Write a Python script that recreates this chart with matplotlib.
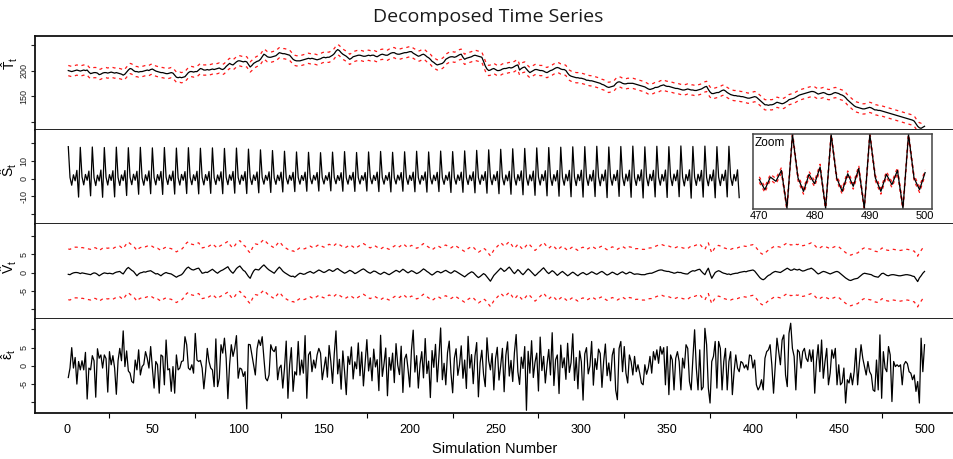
import matplotlib
matplotlib.use("Agg")

import numpy as np
import matplotlib.pyplot as plt

plt.rcParams["font.family"] = ["Liberation Sans", "DejaVu Sans"]
plt.rcParams["axes.unicode_minus"] = False
plt.rcParams["mathtext.fontset"] = "custom"
plt.rcParams["mathtext.rm"] = "Liberation Sans"
plt.rcParams["mathtext.it"] = "Liberation Sans"
plt.rcParams["mathtext.sf"] = "Liberation Sans"

# ---- data ----
# trend T_t, t = 1..500 (rows of 10)
trend = [
    200, 199, 198, 199, 200, 201, 200, 199, 200, 201,
    200, 201, 197, 194, 195, 196, 196, 195, 192, 193,
    195, 196, 196, 195, 196, 197, 196, 195, 196, 195,
    194, 193, 191, 193, 197, 201, 204, 203, 200, 198,
    198, 197, 198, 198, 199, 200, 201, 200, 202, 203,
    201, 199, 198, 197, 196, 196, 195, 194, 194, 195,
    196, 195, 191, 187, 186, 187, 186, 187, 188, 192,
    196, 198, 198, 197, 198, 198, 201, 204, 203, 201,
    201, 202, 201, 202, 203, 202, 203, 204, 205, 203,
    202, 204, 208, 211, 214, 212, 211, 214, 217, 219,
    219, 218, 217, 218, 217, 212, 207, 210, 214, 216,
    218, 219, 222, 227, 232, 230, 227, 226, 226, 227,
    228, 229, 232, 235, 234, 233, 233, 232, 231, 230,
    226, 222, 220, 219, 219, 219, 220, 221, 222, 223,
    224, 223, 224, 223, 222, 221, 222, 223, 225, 226,
    225, 226, 226, 228, 230, 233, 238, 241, 239, 235,
    232, 230, 228, 225, 222, 224, 227, 228, 229, 230,
    230, 229, 228, 228, 229, 230, 229, 230, 230, 228,
    227, 229, 231, 232, 231, 230, 230, 232, 234, 235,
    235, 233, 232, 232, 233, 234, 235, 235, 236, 237,
    237, 234, 232, 230, 228, 229, 231, 232, 230, 227,
    225, 222, 218, 216, 213, 211, 212, 213, 214, 217,
    222, 224, 226, 227, 227, 226, 227, 229, 231, 232,
    226, 222, 224, 225, 226, 227, 229, 230, 229, 228,
    227, 226, 218, 209, 203, 200, 201, 203, 204, 202,
    200, 200, 201, 203, 204, 204, 205, 206, 205, 206,
    208, 210, 211, 201, 204, 206, 207, 203, 199, 196,
    198, 200, 202, 202, 201, 200, 200, 199, 197, 196,
    198, 200, 201, 203, 205, 206, 205, 203, 202, 202,
    200, 195, 191, 189, 188, 187, 186, 186, 185, 185,
    184, 183, 181, 181, 180, 180, 179, 178, 177, 176,
    175, 173, 172, 170, 168, 167, 168, 169, 170, 174,
    177, 178, 177, 175, 174, 174, 175, 175, 175, 175,
    174, 173, 172, 171, 170, 169, 168, 166, 164, 163,
    164, 165, 167, 167, 168, 170, 171, 172, 170, 169,
    169, 168, 167, 166, 165, 165, 164, 163, 162, 162,
    163, 164, 163, 162, 162, 161, 161, 162, 163, 164,
    166, 168, 169, 163, 158, 155, 155, 156, 157, 157,
    159, 161, 162, 160, 157, 155, 153, 152, 151, 151,
    150, 150, 149, 149, 148, 147, 146, 146, 147, 148,
    149, 148, 145, 142, 139, 136, 133, 133, 132, 133,
    133, 134, 136, 138, 137, 136, 135, 136, 138, 140,
    143, 144, 145, 146, 148, 150, 152, 153, 154, 155,
    156, 157, 158, 159, 159, 158, 156, 154, 155, 156,
    157, 156, 154, 153, 153, 154, 156, 157, 156, 155,
    153, 152, 150, 147, 143, 140, 137, 134, 131, 129,
    128, 127, 126, 125, 125, 126, 127, 128, 127, 125,
    123, 123, 122, 122, 121, 120, 119, 118, 117, 116,
    115, 114, 113, 112, 111, 110, 109, 108, 107, 106,
    105, 104, 103, 101, 96, 91, 88, 87, 89, 91,
]
trend_band = 10  # half width of the dashed band

# seasonal S_t shown in the main panel, t = 1..392 (one row per period of 7)
seasonal = [
    [18.0, 0.6, -3.8, 2.1, -1.3, 4.6, -10.5],
    [17.6, 0.9, -3.6, 2.3, -1.0, 4.2, -9.8],
    [17.8, 0.5, -4.0, 1.9, -1.4, 4.8, -10.6],
    [17.5, 0.8, -3.7, 2.2, -1.1, 4.4, -10.4],
    [17.7, 0.6, -3.9, 2.0, -1.2, 4.5, -9.6],
    [17.4, 0.7, -3.5, 2.4, -1.0, 4.1, -8.9],
    [17.6, 0.4, -3.8, 2.1, -1.3, 4.3, -8.6],
    [17.3, 0.6, -3.6, 2.2, -1.1, 4.0, -9.0],
    [17.5, 0.8, -3.4, 2.0, -1.2, 4.2, -8.8],
    [17.2, 0.5, -3.7, 2.3, -1.0, 3.9, -8.5],
    [17.4, 0.7, -3.5, 2.1, -1.2, 4.1, -8.7],
    [17.1, 0.6, -3.6, 2.2, -1.1, 4.0, -8.4],
    [17.3, 0.5, -3.4, 2.0, -1.3, 3.8, -8.6],
    [17.0, 0.7, -3.5, 2.1, -1.0, 4.0, -8.3],
    [17.2, 0.6, -3.3, 1.9, -1.2, 3.9, -8.5],
    [16.6, 0.5, -3.4, 2.0, -1.1, 3.7, -8.1],
    [16.2, 0.6, -3.2, 1.8, -1.0, 3.8, -7.9],
    [15.8, 0.4, -3.3, 1.9, -1.2, 3.6, -7.6],
    [15.4, 0.5, -3.1, 1.8, -1.0, 3.5, -7.4],
    [15.0, 0.6, -3.2, 1.7, -1.1, 3.6, -7.2],
    [14.8, 0.4, -3.0, 1.8, -0.9, 3.4, -7.1],
    [14.6, 0.5, -3.1, 1.6, -1.0, 3.5, -7.0],
    [14.9, 0.6, -3.0, 1.7, -1.1, 3.3, -7.2],
    [15.2, 0.4, -3.2, 1.8, -0.9, 3.5, -7.3],
    [14.7, 0.5, -3.1, 1.6, -1.0, 3.4, -7.1],
    [15.0, 0.6, -3.0, 1.8, -1.1, 3.6, -7.4],
    [15.3, 0.5, -3.2, 1.7, -1.0, 3.5, -7.6],
    [14.8, 0.4, -3.1, 1.9, -0.9, 3.4, -7.2],
    [15.1, 0.6, -3.3, 1.8, -1.1, 3.6, -7.5],
    [15.4, 0.5, -3.2, 1.7, -1.0, 3.7, -7.7],
    [15.0, 0.6, -3.1, 1.9, -1.2, 3.5, -7.4],
    [15.5, 0.4, -3.3, 1.8, -1.0, 3.7, -7.9],
    [15.2, 0.5, -3.2, 2.0, -1.1, 3.6, -7.8],
    [15.6, 0.6, -3.4, 1.9, -1.2, 3.8, -8.1],
    [15.9, 0.5, -3.3, 2.0, -1.1, 3.9, -8.3],
    [16.2, 0.7, -3.5, 2.1, -1.2, 4.0, -8.6],
    [16.5, 0.6, -3.6, 2.0, -1.3, 4.1, -8.9],
    [16.8, 0.7, -3.7, 2.2, -1.2, 4.3, -9.2],
    [17.0, 0.6, -3.8, 2.1, -1.3, 4.2, -9.5],
    [17.3, 0.8, -3.7, 2.3, -1.2, 4.4, -9.8],
    [17.5, 0.7, -3.9, 2.2, -1.4, 4.5, -10.0],
    [17.7, 0.6, -3.8, 2.4, -1.3, 4.6, -10.3],
    [17.9, 0.8, -4.0, 2.3, -1.2, 4.7, -10.5],
    [18.0, 0.7, -3.9, 2.2, -1.4, 4.6, -10.2],
    [18.2, 0.9, -4.1, 2.4, -1.3, 4.8, -10.8],
    [17.8, 0.7, -3.8, 2.3, -1.2, 4.6, -10.1],
    [18.1, 0.8, -4.0, 2.5, -1.4, 4.7, -10.6],
    [18.3, 0.6, -3.9, 2.2, -1.3, 4.9, -11.0],
    [17.9, 0.8, -4.1, 2.4, -1.2, 4.6, -10.4],
    [18.2, 0.7, -3.8, 2.3, -1.4, 4.8, -10.7],
    [18.0, 0.9, -4.0, 2.5, -1.3, 4.7, -10.3],
    [18.4, 0.7, -4.2, 2.3, -1.2, 4.9, -11.1],
    [18.1, 0.8, -3.9, 2.4, -1.4, 4.6, -10.5],
    [18.3, 0.6, -4.1, 2.2, -1.3, 4.8, -10.9],
    [18.0, 0.8, -4.0, 2.4, -1.2, 4.7, -10.4],
    [18.2, 0.7, -3.9, 2.3, -1.4, 4.9, -10.8],
]

# zoomed seasonal component, t = 470..500
zoom_t = list(range(470, 501))
zoom_seasonal = [
    0.3, -3.3, 1.2, -0.3, 3.6, -10.0, 16.5, 0.9, -3.9, 2.2,
    -1.2, 4.8, -10.0, 16.5, 0.9, -3.9, 2.4, -2.1, 4.3, -10.0,
    16.5, 0.9, -3.9, 2.2, -1.5, 3.6, -10.0, 16.5, 0.9, -3.3,
    2.8,
]
zoom_band = 1.0

# V_t, t = 1..500 (rows of 10)
v_comp = [
    -0.5, -0.6, -0.3, -0.1, 0.0, 0.0, -0.1, -0.3, -0.1, -0.2,
    -0.3, -0.4, -0.5, -0.6, -0.3, -0.1, -0.2, -0.5, -0.9, -0.6,
    -0.3, -0.1, -0.2, -0.3, -0.2, -0.3, -0.4, -0.1, 0.1, 0.2,
    0.3, -0.1, -0.4, 0.3, 1.0, 1.4, 1.0, 0.6, 0.3, -0.3,
    -0.9, -0.4, -0.1, 0.0, 0.2, 0.1, 0.3, 0.4, 0.5, 0.2,
    -0.1, -0.4, -0.3, -0.6, -0.9, -0.5, -0.2, 0.0, -0.2, -0.3,
    -0.4, -0.7, -1.0, -1.3, -1.0, -0.8, -0.6, -0.1, 0.6, 1.2,
    1.5, 1.1, 0.8, 0.7, 0.9, 1.1, 1.2, 0.5, -0.2, -0.1,
    0.1, 0.0, 0.3, 0.6, 0.9, 0.5, 0.1, -0.2, 0.2, 0.5,
    0.7, 1.0, 1.3, 1.6, 0.8, 0.2, -0.2, 0.4, 1.1, 1.5,
    1.8, 1.2, 0.6, 0.3, -0.4, -1.1, -1.6, -0.5, 0.4, 0.9,
    0.8, 0.7, 1.2, 1.7, 2.1, 1.6, 1.1, 0.7, 0.4, 0.1,
    -0.2, 0.4, 1.0, 1.5, 1.0, 0.4, 0.0, -0.3, -0.6, -0.9,
    -1.1, -1.0, -1.3, -0.9, -0.5, -0.2, -0.3, -0.5, -0.4, -0.1,
    0.1, 0.3, 0.0, -0.2, 0.1, 0.4, 0.7, 0.5, 0.2, 0.0,
    0.2, 0.5, 0.8, 0.6, 0.3, 0.5, 0.9, 1.1, 0.7, 0.4,
    0.1, -0.2, 0.0, 0.3, 0.6, 0.4, 0.1, -0.3, -0.1, 0.2,
    0.5, 0.8, 1.0, 0.7, 0.3, 0.0, -0.2, 0.1, 0.4, 0.3,
    0.0, -0.3, -0.5, -0.2, 0.1, -0.1, -0.4, -0.6, -0.3, 0.0,
    0.3, 0.6, 0.4, 0.1, 0.5, 0.9, 0.6, 0.2, -0.1, 0.2,
    0.5, 0.3, 0.0, -0.3, -0.1, 0.2, 0.6, 1.0, 0.7, 0.3,
    0.0, -0.4, -0.7, -0.4, 0.0, 0.3, 0.2, -0.1, 0.1, 0.4,
    0.6, 0.3, 0.0, -0.2, 0.1, 0.5, 0.3, 0.0, -0.3, -0.6,
    -0.9, -1.2, -0.8, -0.4, -0.1, 0.2, 0.0, -0.5, -1.0, -1.4,
    -1.1, -0.7, -0.3, -0.6, -1.2, -1.8, -2.4, -1.6, -0.8, -0.3,
    0.2, 0.7, 1.2, 0.8, 0.3, 0.6, 1.1, 1.5, 0.9, 0.2,
    -0.3, 0.2, 0.8, 0.4, -0.2, -0.6, -0.1, 0.5, 1.0, 0.6,
    0.1, -0.4, -0.9, -0.5, 0.0, 0.4, 0.9, 1.3, 0.7, 0.1,
    -0.3, 0.1, 0.5, 0.2, -0.3, -0.8, -0.4, 0.0, 0.3, -0.1,
    -0.5, -0.9, -0.6, -0.2, 0.1, -0.2, -0.6, -0.9, -0.5, -0.2,
    0.0, -0.3, -0.6, -0.4, -0.1, 0.2, 0.0, -0.3, -0.5, -0.2,
    0.1, 0.3, 0.0, -0.4, -0.7, -0.5, -0.2, 0.1, -0.1, -0.4,
    -0.6, -0.3, 0.0, 0.2, -0.1, -0.4, -0.2, 0.1, 0.0, -0.3,
    -0.5, -0.4, -0.4, -0.5, -0.6, -0.6, -0.6, -0.4, -0.3, -0.2,
    -0.2, 0.0, 0.2, 0.4, 0.6, 0.7, 0.7, 0.5, 0.4, 0.3,
    0.3, 0.1, 0.0, -0.2, -0.1, 0.1, 0.0, 0.0, -0.2, -0.3,
    -0.4, -0.4, 0.0, 0.3, 0.5, 0.4, 0.6, 0.8, 0.9, 0.3,
    -0.2, -0.6, 0.4, 1.2, -0.3, -1.6, -0.8, 0.0, 0.3, 0.5,
    0.3, 0.0, -0.2, -0.3, -0.5, -0.4, -0.6, -0.4, -0.3, -0.2,
    -0.2, 0.0, 0.1, 0.2, 0.3, 0.2, 0.4, 0.5, 0.6, 0.7,
    0.4, -0.2, -0.8, -1.4, -1.8, -2.0, -1.7, -1.2, -0.8, -0.6,
    -0.2, 0.1, 0.3, 0.2, 0.1, 0.0, 0.3, 0.6, 0.9, 1.2,
    0.9, 0.6, 0.7, 1.0, 0.8, 0.7, 0.9, 0.6, 0.4, 0.5,
    0.7, 0.9, 1.0, 1.2, 0.9, 0.5, 0.0, -0.4, -0.2, 0.1,
    0.3, 0.2, 0.0, -0.2, -0.4, -0.2, 0.0, 0.2, 0.3, 0.1,
    -0.3, -0.7, -1.1, -1.5, -1.8, -2.1, -2.2, -2.0, -1.8, -1.7,
    -1.6, -1.2, -0.8, -0.4, -0.2, -0.3, -0.4, -0.5, -0.6, -0.9,
    -1.1, -1.2, -1.3, -0.8, -0.3, -0.2, -0.5, -0.8, -0.9, -0.7,
    -0.6, -0.6, -0.7, -0.8, -0.9, -0.9, -0.8, -0.7, -0.6, -0.6,
    -0.7, -0.8, -1.0, -1.1, -1.8, -2.5, -1.5, -0.9, -0.2, 0.3,
]
v_band = 7

# irregular epsilon_t, t = 1..500 (rows of 10)
eps = [
    -3.2, -0.6, 5.0, -0.6, 2.3, -5.0, 1.2, -1.1, 1.4, -1.1,
    3.7, -9.1, -0.6, -1.1, 2.8, 1.4, -8.6, 4.7, 2.1, 3.0,
    -0.6, 3.0, 2.0, -7.2, 3.9, 0.3, 2.8, -0.6, -7.8, 1.4,
    4.8, 1.4, 9.6, -0.2, 4.1, -1.4, -2.0, -4.3, -4.7, 1.6,
    -1.1, 4.4, -2.5, -0.2, 0.4, 3.9, 2.1, -0.6, 5.3, -0.6,
    -6.1, 1.2, 0.3, -7.5, 3.0, 2.6, -5.2, 7.1, -1.1, -0.8,
    -7.0, -0.2, -7.5, 3.0, -1.1, -0.6, 1.2, 1.4, 8.0, 5.8,
    -0.6, -1.1, 0.3, -2.0, 8.9, 1.6, 1.2, 1.5, -0.6, -6.3,
    -1.6, 4.8, 1.2, -0.6, -1.1, -5.7, 7.4, -5.7, -3.4, 5.8,
    3.5, 7.6, 2.1, -9.0, 0.3, 5.8, 2.6, 4.8, 8.3, -3.4,
    -0.6, -0.9, -2.9, -1.6, -11.8, 5.9, 5.8, 3.0, 0.3, -2.5,
    4.7, 7.1, 5.6, 8.0, 2.1, -3.4, -4.1, -2.5, 5.8, 4.4,
    3.9, 5.3, -3.8, -0.6, 0.2, -6.1, -0.6, 6.8, -8.9, 0.3,
    5.0, -7.0, -1.6, -2.5, 6.7, -2.5, 1.6, -2.0, 8.3, -8.9,
    3.0, 3.9, -1.6, 1.6, -0.6, 3.0, 4.8, 3.5, -3.8, -0.6,
    2.4, -3.1, 5.6, 1.2, -4.8, 3.3, 9.6, -2.2, 1.8, -6.4,
    4.1, -1.5, -7.9, 2.6, 0.4, 5.2, -3.6, 1.1, -0.8, 6.3,
    -2.7, 3.8, -5.5, 0.9, 7.2, -1.4, 2.2, -4.1, 4.6, -0.3,
    1.7, -6.8, 8.4, -2.9, 0.6, 4.9, -8.2, 2.3, -1.2, 3.5,
    -4.6, 6.1, 0.2, -2.4, 5.4, -7.3, 1.9, 3.2, -0.9, -5.8,
    4.4, 9.8, -1.7, 2.8, -6.1, 0.5, 3.9, -3.3, 7.5, -2.1,
    1.3, -8.7, 4.2, -0.4, 5.9, -4.4, 2.5, 10.4, -3.8, 0.7,
    -5.2, 3.6, 6.8, -1.9, -7.4, 2.1, 4.7, -2.6, 0.3, 5.5,
    -3.4, 1.6, -6.2, 8.1, -0.6, 3.1, -4.9, 2.7, 6.4, -8.5,
    0.8, 4.3, -2.3, -5.7, 7.7, 1.4, -1.1, 3.4, -6.6, 2.0,
    5.1, -3.9, 0.1, 4.8, -7.1, 2.9, 6.6, -2.8, 1.5, -4.3,
    3.7, 8.6, -1.6, -5.1, 2.4, -0.7, 5.3, -12.2, 4.0, -2.0,
    6.9, -3.2, 1.0, 3.5, -6.9, 7.9, -1.3, 2.6, -4.7, 0.4,
    4.5, -2.5, 9.1, -5.4, 1.7, 3.0, -7.6, 5.7, -0.5, 2.2,
    -3.7, 6.2, -1.8, 0.9, 8.8, -4.0, 2.3, -6.3, 4.1, 1.1,
    -9.4, 3.3, 5.0, -2.2, 0.0, 6.7, -5.3, 2.0, -1.0, 4.6,
    3.4, -5.9, 1.2, 6.0, -2.7, 0.8, -4.1, 2.9, 4.8, -6.6,
    -9.3, 4.8, 6.7, -1.6, 5.3, -2.0, -4.7, 3.0, 1.2, -2.5,
    2.6, -1.6, 0.3, -2.0, -4.7, -5.2, 0.3, -2.3, -0.6, 2.6,
    -2.0, 3.9, 1.6, 4.4, 0.7, 5.3, 3.2, 5.0, -5.2, 5.3,
    -7.9, 3.0, 1.6, -6.6, 2.1, 3.9, 1.2, -6.6, 2.1, -0.6,
    5.8, 4.8, -4.3, -6.6, 2.1, 9.9, -0.6, -6.6, 4.4, -6.6,
    -5.8, 10.3, 5.8, -6.1, -10.2, 1.2, 2.6, 6.7, -6.1, 6.7,
    4.8, -6.6, 1.2, 4.8, -6.6, 1.2, 3.9, -7.9, -1.6, 3.0,
    -0.6, -1.6, 1.2, 0.8, -0.6, 0.3, -1.1, 3.0, 2.8, -0.6,
    1.6, -5.2, -6.6, -5.7, -3.8, -6.6, 2.1, 3.9, 4.4, 5.8,
    0.3, -7.5, 0.3, 7.6, 3.9, 0.3, 7.1, 8.5, -2.5, -5.7,
    8.9, 11.7, 4.8, 2.6, -6.6, 4.4, 3.8, -0.6, 3.9, 4.8,
    2.1, 1.2, 4.4, 1.2, 4.4, -7.5, 1.2, 5.8, -1.6, 7.1,
    -3.4, 1.2, 4.8, -5.2, -2.0, 4.4, 2.1, 4.8, -5.2, 0.3,
    -5.2, -4.6, -0.6, -10.2, -3.8, -4.7, -2.0, -5.2, -1.6, 4.8,
    -5.2, 0.7, 5.8, 2.1, -0.2, -2.5, 1.2, -1.6, -2.5, -6.6,
    -7.0, 1.6, -6.6, 8.5, -8.9, 3.9, -0.6, -1.6, 5.3, 3.0,
    -9.8, 1.2, -0.2, 0.3, -0.2, 0.3, -5.2, 0.3, 1.2, 0.6,
    -1.6, -2.0, -3.8, -2.5, -7.0, -4.3, -10.2, 7.6, -1.6, 5.8,
]

x_ticks = list(range(0, 501, 50))
x_minor = list(range(25, 500, 50))

# ---- figure ----
W, H = 954, 459
fig = plt.figure(figsize=(W / 100, H / 100), dpi=100)


def px_axes(top, bottom, left=35, right=958):
    return fig.add_axes([left / W, 1 - bottom / H, (right - left) / W, (bottom - top) / H])


ax1 = px_axes(36, 130)
ax2 = px_axes(130, 224)
ax3 = px_axes(224, 318.5)
ax4 = px_axes(318.5, 412.5)
axes = [ax1, ax2, ax3, ax4]

dash = dict(color="#ff1a1a", lw=0.9, linestyle=(0, (2.5, 3)))
black = dict(color="black", lw=0.9)

t_trend = np.arange(1, len(trend) + 1)
tr = np.array(trend, dtype=float)
ax1.plot(t_trend, tr + trend_band, **dash)
ax1.plot(t_trend, tr - trend_band, **dash)
ax1.plot(t_trend, tr, **black)
ax1.set_ylim(83.7, 267.6)

s_main = np.concatenate([np.array(r) for r in seasonal])
ax2.plot(np.arange(1, len(s_main) + 1), s_main, **black)
ax2.set_ylim(-25.7, 27.4)

t_v = np.arange(1, len(v_comp) + 1)
vv = np.array(v_comp)
ax3.plot(t_v, vv + v_band, **dash)
ax3.plot(t_v, vv - v_band, **dash)
ax3.plot(t_v, vv, **black)
ax3.set_ylim(-12.7, 13.4)

ax4.plot(np.arange(1, len(eps) + 1), eps, **black)
ax4.set_ylim(-12.8, 13.0)

y_ticks = {
    ax1: ([100, 150, 200, 250], ["", "150", "200", ""]),
    ax2: ([-20, -10, 0, 10, 20], ["", "-10", "0", "10", ""]),
    ax3: ([-10, -5, 0, 5, 10], ["", "-5", "0", "5", ""]),
    ax4: ([-10, -5, 0, 5, 10], ["", "-5", "0", "5", ""]),
}

for ax in axes:
    ax.set_xlim(-18.4, 519.5)
    ticks, labels = y_ticks[ax]
    ax.set_yticks(ticks)
    ax.set_yticklabels(labels, rotation=90, va="center")
    ax.tick_params(axis="y", length=3, width=0.8, labelsize=6.5, pad=1.5, colors="#222222")
    ax.spines["right"].set_visible(False)
    ax.spines["top"].set_visible(ax is ax1)
    for s in ax.spines.values():
        s.set_linewidth(1.3)
        s.set_color("#111111")
    if ax is not ax4:
        ax.set_xticks([])

ax4.set_xticks(x_ticks)
ax4.set_xticklabels([str(v) for v in x_ticks])
ax4.set_xticks(x_minor, minor=True)
ax4.tick_params(axis="x", which="major", length=0, labelsize=9, pad=8.5)
ax4.tick_params(axis="x", which="minor", length=3.5, width=0.8)

# y labels
ylabels = [
    (r"$\hat{T}_t$", 10, 63),
    (r"$\hat{S}_t$", 9, 170),
    (r"$\hat{V}_t$", 9, 267),
    (r"$\hat{\varepsilon}_t$", 9, 354),
]
for txt, x, y in ylabels:
    fig.text(x / W, 1 - y / H, txt, rotation=90, ha="center", va="center", fontsize=10)

fig.text(488 / W, 1 - 17 / H, "Decomposed Time Series", ha="center", va="center",
         fontsize=14, family=["Open Sans", "DejaVu Sans"], color="#1a1a1a")
fig.text(495 / W, 1 - 449 / H, "Simulation Number", ha="center", va="center", fontsize=10.5)

# zoom inset
axz = fig.add_axes([752.7 / W, 1 - 208.7 / H, 179 / W, 74.7 / H])
axz.set_facecolor("white")
zs = np.array(zoom_seasonal)
axz.plot(zoom_t, zs + zoom_band, **dash)
axz.plot(zoom_t, zs - zoom_band, **dash)
axz.plot(zoom_t, zs, **black)
axz.set_xlim(468.8, 501.2)
axz.set_ylim(-10.1, 16.6)
axz.set_yticks([])
axz.set_xticks([470, 480, 490, 500])
axz.tick_params(axis="x", length=0, labelsize=8, pad=2)
for s in axz.spines.values():
    s.set_linewidth(1.1)
    s.set_color("#444444")
axz.text(0.01, 0.96, "Zoom", transform=axz.transAxes, ha="left", va="top", fontsize=8.5)

fig.savefig("out.png", dpi=100)
